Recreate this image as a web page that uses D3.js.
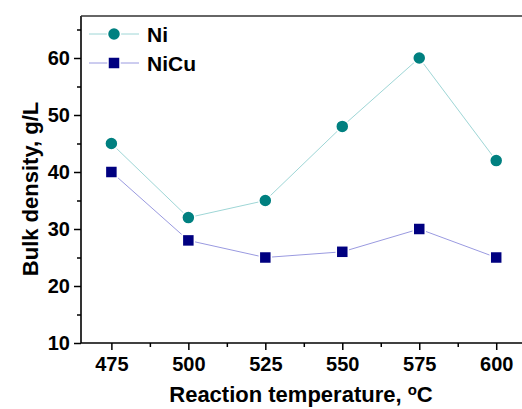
<!DOCTYPE html>
<html><head><meta charset="utf-8">
<script src="https://cdn.jsdelivr.net/npm/d3@7/dist/d3.min.js"></script>
<style>body{margin:0;background:#fff}svg{display:block}text{font-family:Arial,"Liberation Sans",sans-serif;font-weight:bold}</style>
</head><body><svg id="c" width="522" height="409"></svg>
<script>
const temps = [475, 500, 525, 550, 575, 600];
const ni = [45, 32, 35, 48, 60, 42];
const nicu = [40, 28, 25, 26, 30, 25];
const xTicks = [475, 500, 525, 550, 575, 600];
const xMinor = [487.5, 512.5, 537.5, 562.5, 587.5, 612.5];
const yTicks = [10, 20, 30, 40, 50, 60];
const yMinor = [15, 25, 35, 45, 55, 65];

const svg = d3.select("#c");
const x = d3.scaleLinear().domain([465, 610]).range([80.6, 527]);
const y = d3.scaleLinear().domain([10, 60]).range([343, 58]);
const yTop = 16;
const FF = "Arial, 'Liberation Sans', sans-serif";

// frame lines (left, bottom, top)
svg.append("line").attr("x1", 81).attr("x2", 81).attr("y1", yTop).attr("y2", 343).attr("stroke", "#000").attr("stroke-width", 1.6);
svg.append("line").attr("x1", 81).attr("x2", 522).attr("y1", 343).attr("y2", 343).attr("stroke", "#000").attr("stroke-width", 1.6);
svg.append("line").attr("x1", 81).attr("x2", 522).attr("y1", yTop).attr("y2", yTop).attr("stroke", "#333").attr("stroke-width", 1.6);

// y axis
const ya = svg.append("g").attr("transform", "translate(81,0)")
  .call(d3.axisLeft(y).tickValues(yTicks).tickSize(7).tickPadding(4).tickFormat(d3.format("d")));
ya.select(".domain").remove();
ya.selectAll(".tick line").attr("stroke-width", 1.5);
ya.selectAll("text").attr("font-size", 20).attr("font-family", FF).attr("font-weight", "bold").attr("fill", "#000");
const yam = svg.append("g").attr("transform", "translate(81,0)")
  .call(d3.axisLeft(y).tickValues(yMinor).tickSize(4).tickFormat(""));
yam.select(".domain").remove();
yam.selectAll(".tick line").attr("stroke-width", 1.5);

// x axis
const xa = svg.append("g").attr("transform", "translate(0,343)")
  .call(d3.axisBottom(x).tickValues(xTicks).tickSize(7).tickPadding(7).tickFormat(d3.format("d")));
xa.select(".domain").remove();
xa.selectAll(".tick line").attr("stroke-width", 1.5);
xa.selectAll("text").attr("font-size", 20).attr("font-family", FF).attr("font-weight", "bold").attr("fill", "#000");
const xam = svg.append("g").attr("transform", "translate(0,343)")
  .call(d3.axisBottom(x).tickValues(xMinor).tickSize(4).tickFormat(""));
xam.select(".domain").remove();
xam.selectAll(".tick line").attr("stroke-width", 1.5);

// axis titles
svg.append("text").attr("transform", "translate(38,189) rotate(-90)").attr("text-anchor", "middle")
  .attr("font-size", 22).text("Bulk density, g/L");
const xt = svg.append("text").attr("x", 301).attr("y", 402).attr("text-anchor", "middle").attr("font-size", 22);
xt.append("tspan").text("Reaction temperature, ");
xt.append("tspan").attr("font-size", 15).attr("dy", -7).text("o");
xt.append("tspan").attr("dy", 7).text("C");

// series
const line = d3.line().x((d, i) => x(temps[i])).y(d => y(d));
svg.append("path").datum(ni).attr("d", line).attr("fill", "none").attr("stroke", "#9ed6d6").attr("stroke-width", 1);
svg.append("path").datum(nicu).attr("d", line).attr("fill", "none").attr("stroke", "#9a9ae0").attr("stroke-width", 1);

svg.selectAll("circle.ni").data(ni).enter().append("circle")
  .attr("cx", (d, i) => x(temps[i])).attr("cy", d => y(d)).attr("r", 6.5)
  .attr("fill", "#008080").attr("stroke", "#fff").attr("stroke-width", 1.5);
svg.selectAll("rect.nicu").data(nicu).enter().append("rect")
  .attr("x", (d, i) => x(temps[i]) - 6).attr("y", d => y(d) - 6).attr("width", 12).attr("height", 12)
  .attr("fill", "#000080").attr("stroke", "#fff").attr("stroke-width", 1.5);

// legend
const lg = [{name: "Ni", y: 34, lc: "#9ed6d6", c: "#008080", shape: "c"},
            {name: "NiCu", y: 63, lc: "#9a9ae0", c: "#000080", shape: "s"}];
lg.forEach(l => {
  svg.append("line").attr("x1", 89).attr("x2", 139).attr("y1", l.y).attr("y2", l.y).attr("stroke", l.lc).attr("stroke-width", 1);
  if (l.shape === "c") svg.append("circle").attr("cx", 114).attr("cy", l.y).attr("r", 6.5).attr("fill", l.c).attr("stroke", "#fff").attr("stroke-width", 1.5);
  else svg.append("rect").attr("x", 108).attr("y", l.y - 6).attr("width", 12).attr("height", 12).attr("fill", l.c).attr("stroke", "#fff").attr("stroke-width", 1.5);
  svg.append("text").attr("x", 147).attr("y", l.y + 8).attr("font-size", 21).text(l.name);
});
</script></body></html>
